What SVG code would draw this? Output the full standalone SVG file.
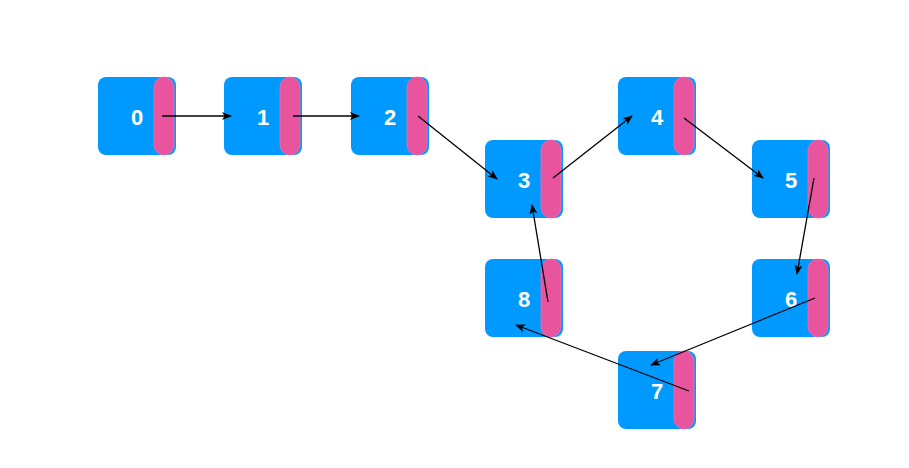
<svg xmlns="http://www.w3.org/2000/svg" width="909" height="468" viewBox="0 0 909 468">
<defs>
<marker id="ah" markerWidth="10" markerHeight="8" refX="9" refY="4" orient="auto" markerUnits="userSpaceOnUse">
<path d="M0,0 L10,4 L0,8 L2.5,4 Z" fill="#000"/>
</marker>
<style>
.box{fill:#0099ff}
.ptr{fill:#e8559e;stroke:#f06aaa;stroke-width:0.8}
.lbl{fill:#fff;font-family:"Liberation Sans",Arial,sans-serif;font-weight:bold;font-size:22px;text-anchor:middle;dominant-baseline:central}
.edge{stroke:#000;stroke-width:1.3;fill:none;marker-end:url(#ah)}
</style>
</defs>
<rect width="909" height="468" fill="#fff"/>
<g id="n0" transform="translate(98,77)"><rect class="box" width="78" height="78" rx="8"/><rect class="ptr" x="56" width="20" height="78" rx="10"/><text class="lbl" x="39" y="40">0</text></g>
<g id="n1" transform="translate(224,77)"><rect class="box" width="78" height="78" rx="8"/><rect class="ptr" x="56" width="20" height="78" rx="10"/><text class="lbl" x="39" y="40">1</text></g>
<g id="n2" transform="translate(351,77)"><rect class="box" width="78" height="78" rx="8"/><rect class="ptr" x="56" width="20" height="78" rx="10"/><text class="lbl" x="39" y="40">2</text></g>
<g id="n3" transform="translate(485,140)"><rect class="box" width="78" height="78" rx="8"/><rect class="ptr" x="56" width="20" height="78" rx="10"/><text class="lbl" x="39" y="40">3</text></g>
<g id="n4" transform="translate(618,77)"><rect class="box" width="78" height="78" rx="8"/><rect class="ptr" x="56" width="20" height="78" rx="10"/><text class="lbl" x="39" y="40">4</text></g>
<g id="n5" transform="translate(752,140)"><rect class="box" width="78" height="78" rx="8"/><rect class="ptr" x="56" width="20" height="78" rx="10"/><text class="lbl" x="39" y="40">5</text></g>
<g id="n6" transform="translate(752,259)"><rect class="box" width="78" height="78" rx="8"/><rect class="ptr" x="56" width="20" height="78" rx="10"/><text class="lbl" x="39" y="40">6</text></g>
<g id="n7" transform="translate(618,351)"><rect class="box" width="78" height="78" rx="8"/><rect class="ptr" x="56" width="20" height="78" rx="10"/><text class="lbl" x="39" y="40">7</text></g>
<g id="n8" transform="translate(485,259)"><rect class="box" width="78" height="78" rx="8"/><rect class="ptr" x="56" width="20" height="78" rx="10"/><text class="lbl" x="39" y="40">8</text></g>
<g id="edges">
<line class="edge" x1="162" y1="116" x2="231" y2="116"/>
<line class="edge" x1="293" y1="116" x2="359" y2="116"/>
<line class="edge" x1="418" y1="116" x2="497" y2="179"/>
<line class="edge" x1="553" y1="178" x2="632" y2="116"/>
<line class="edge" x1="684" y1="118" x2="763" y2="178"/>
<line class="edge" x1="814" y1="178" x2="797" y2="274"/>
<line class="edge" x1="815" y1="298" x2="651" y2="365"/>
<line class="edge" x1="689" y1="391" x2="516" y2="325"/>
<line class="edge" x1="548" y1="302" x2="532" y2="205"/>
</g>
</svg>
